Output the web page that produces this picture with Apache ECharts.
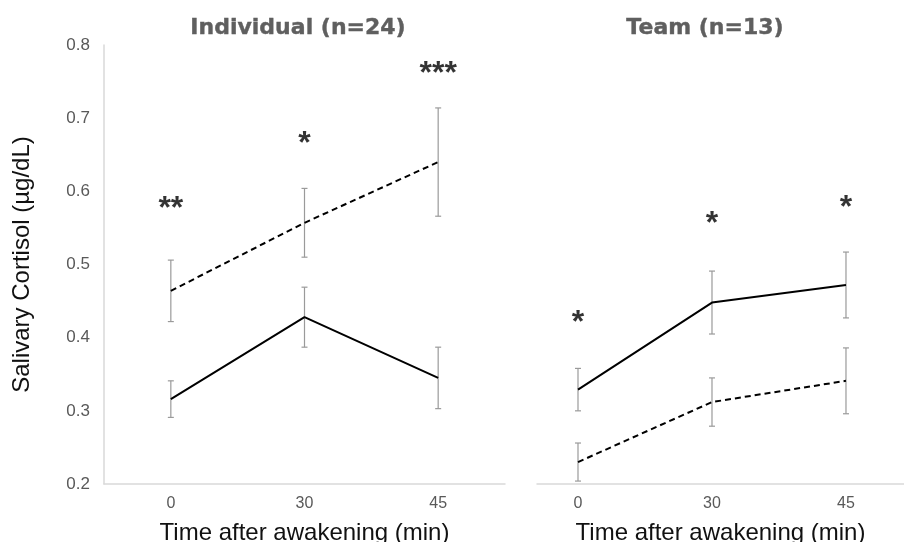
<!DOCTYPE html>
<html>
<head>
<meta charset="utf-8">
<script src="https://cdn.jsdelivr.net/npm/echarts@6/dist/echarts.min.js"></script>
<style>html,body{margin:0;padding:0;background:#fff}#c{width:904px;height:542px}</style>
</head>
<body>
<div id="c"></div>
<script>
// ---- data ----
const timeLabels = ['0', '30', '45'];
const yTicks = [0.2, 0.3, 0.4, 0.5, 0.6, 0.7, 0.8];

const indivSolid = [0.316, 0.428, 0.345];
const indivSolidErr = [0.025, 0.041, 0.042];
const indivDashed = [0.464, 0.557, 0.640];
const indivDashedErr = [0.042, 0.047, 0.074];

const teamSolid = [0.329, 0.448, 0.472];
const teamSolidErr = [0.029, 0.043, 0.045];
const teamDashed = [0.230, 0.312, 0.341];
const teamDashedErr = [0.026, 0.033, 0.045];

const indivStars = ['**', '*', '***'];
const indivStarY = [0.581, 0.670, 0.766];
const teamStars = ['*', '*', '*'];
const teamStarY = [0.425, 0.561, 0.583];

// ---- helpers ----
function pts(vals) { return vals.map((v, i) => [i, v]); }
function errData(vals, errs) { return vals.map((v, i) => [i, v - errs[i], v + errs[i]]); }
function starData(labels, ys) { return ys.map((y, i) => ({ value: [i, y], name: labels[i] })); }

function errSeries(vals, errs, xi) {
  return {
    type: 'custom', xAxisIndex: xi, yAxisIndex: xi, z: 1,
    data: errData(vals, errs),
    renderItem: function (params, api) {
      const x = api.value(0);
      const lo = api.coord([x, api.value(1)]);
      const hi = api.coord([x, api.value(2)]);
      const w = 3;
      const st = { stroke: '#9a9a9a', lineWidth: 1.2 };
      return {
        type: 'group', children: [
          { type: 'line', shape: { x1: lo[0], y1: lo[1], x2: hi[0], y2: hi[1] }, style: st },
          { type: 'line', shape: { x1: lo[0] - w, y1: lo[1], x2: lo[0] + w, y2: lo[1] }, style: st },
          { type: 'line', shape: { x1: hi[0] - w, y1: hi[1], x2: hi[0] + w, y2: hi[1] }, style: st }
        ]
      };
    }
  };
}
function lineSeries(vals, dashed, xi) {
  return {
    type: 'line', xAxisIndex: xi, yAxisIndex: xi, z: 3,
    data: pts(vals), symbol: 'none', silent: true,
    lineStyle: { color: '#000', width: 2, type: dashed ? [6, 4] : 'solid' }
  };
}
function starSeries(labels, ys, xi) {
  return {
    type: 'scatter', xAxisIndex: xi, yAxisIndex: xi, z: 4,
    data: starData(labels, ys), symbolSize: 0, silent: true,
    label: {
      show: true, position: 'inside', formatter: p => p.name,
      color: '#000', fontSize: 32, fontWeight: 'bold',
      fontFamily: 'Liberation Sans, Arial, sans-serif', offset: [0, 4]
    }
  };
}

const FONT = 'Liberation Sans, Arial, sans-serif';
const axisLineStyle = { color: '#d9d9d9', width: 1.5 };
const titleStyle = { fontFamily: 'DejaVu Sans', fontWeight: 'bold', fontSize: 22, color: '#5f5f5f',
  textBorderColor: '#5f5f5f', textBorderWidth: 0.4 };

const option = {
  animation: false,
  backgroundColor: '#fff',
  title: [
    { text: 'Individual (n=24)', left: 293, top: 12, textAlign: 'center', textStyle: titleStyle },
    { text: 'Team (n=13)', left: 700, top: 12, textAlign: 'center', textStyle: titleStyle }
  ],
  grid: [
    { left: 104, width: 401, top: 45, bottom: 58, containLabel: false, outerBoundsMode: 'none' },
    { left: 537, right: 0, top: 45, bottom: 58, containLabel: false, outerBoundsMode: 'none' }
  ],
  xAxis: [
    {
      gridIndex: 0, type: 'category', data: timeLabels, boundaryGap: true,
      axisLine: { lineStyle: axisLineStyle }, axisTick: { show: false },
      axisLabel: { color: '#595959', fontSize: 16, fontFamily: FONT, margin: 12 },
      name: 'Time after awakening (min)', nameLocation: 'middle', nameGap: 37,
      nameTextStyle: { color: '#111', fontSize: 24, fontFamily: FONT }
    },
    {
      gridIndex: 1, type: 'value', min: -0.306, max: 2.433,
      axisLine: { lineStyle: axisLineStyle }, axisTick: { show: false }, splitLine: { show: false },
      axisLabel: { color: '#595959', fontSize: 16, fontFamily: FONT, margin: 12,
        customValues: [0, 1, 2], formatter: v => timeLabels[Math.round(v)] },
      name: 'Time after awakening (min)', nameLocation: 'middle', nameGap: 37,
      nameTextStyle: { color: '#111', fontSize: 24, fontFamily: FONT }
    }
  ],
  yAxis: [
    {
      gridIndex: 0, type: 'value', min: 0.2, max: 0.8, interval: 0.1,
      axisLine: { show: true, lineStyle: axisLineStyle }, axisTick: { show: false },
      splitLine: { show: false },
      axisLabel: { color: '#595959', fontSize: 17, fontFamily: FONT, margin: 14,
        formatter: v => (Math.round(v * 10) / 10).toFixed(1) },
      name: 'Salivary Cortisol (µg/dL)', nameLocation: 'middle', nameGap: 70,
      nameTextStyle: { color: '#111', fontSize: 24, fontFamily: FONT }
    },
    {
      gridIndex: 1, type: 'value', min: 0.2, max: 0.8, interval: 0.1, show: false
    }
  ],
  series: [
    errSeries(indivSolid, indivSolidErr, 0),
    errSeries(indivDashed, indivDashedErr, 0),
    lineSeries(indivSolid, false, 0),
    lineSeries(indivDashed, true, 0),
    starSeries(indivStars, indivStarY, 0),
    errSeries(teamSolid, teamSolidErr, 1),
    errSeries(teamDashed, teamDashedErr, 1),
    lineSeries(teamSolid, false, 1),
    lineSeries(teamDashed, true, 1),
    starSeries(teamStars, teamStarY, 1)
  ]
};

const chart = echarts.init(document.getElementById('c'), null, { renderer: 'canvas' });
chart.setOption(option);
</script>
</body>
</html>
